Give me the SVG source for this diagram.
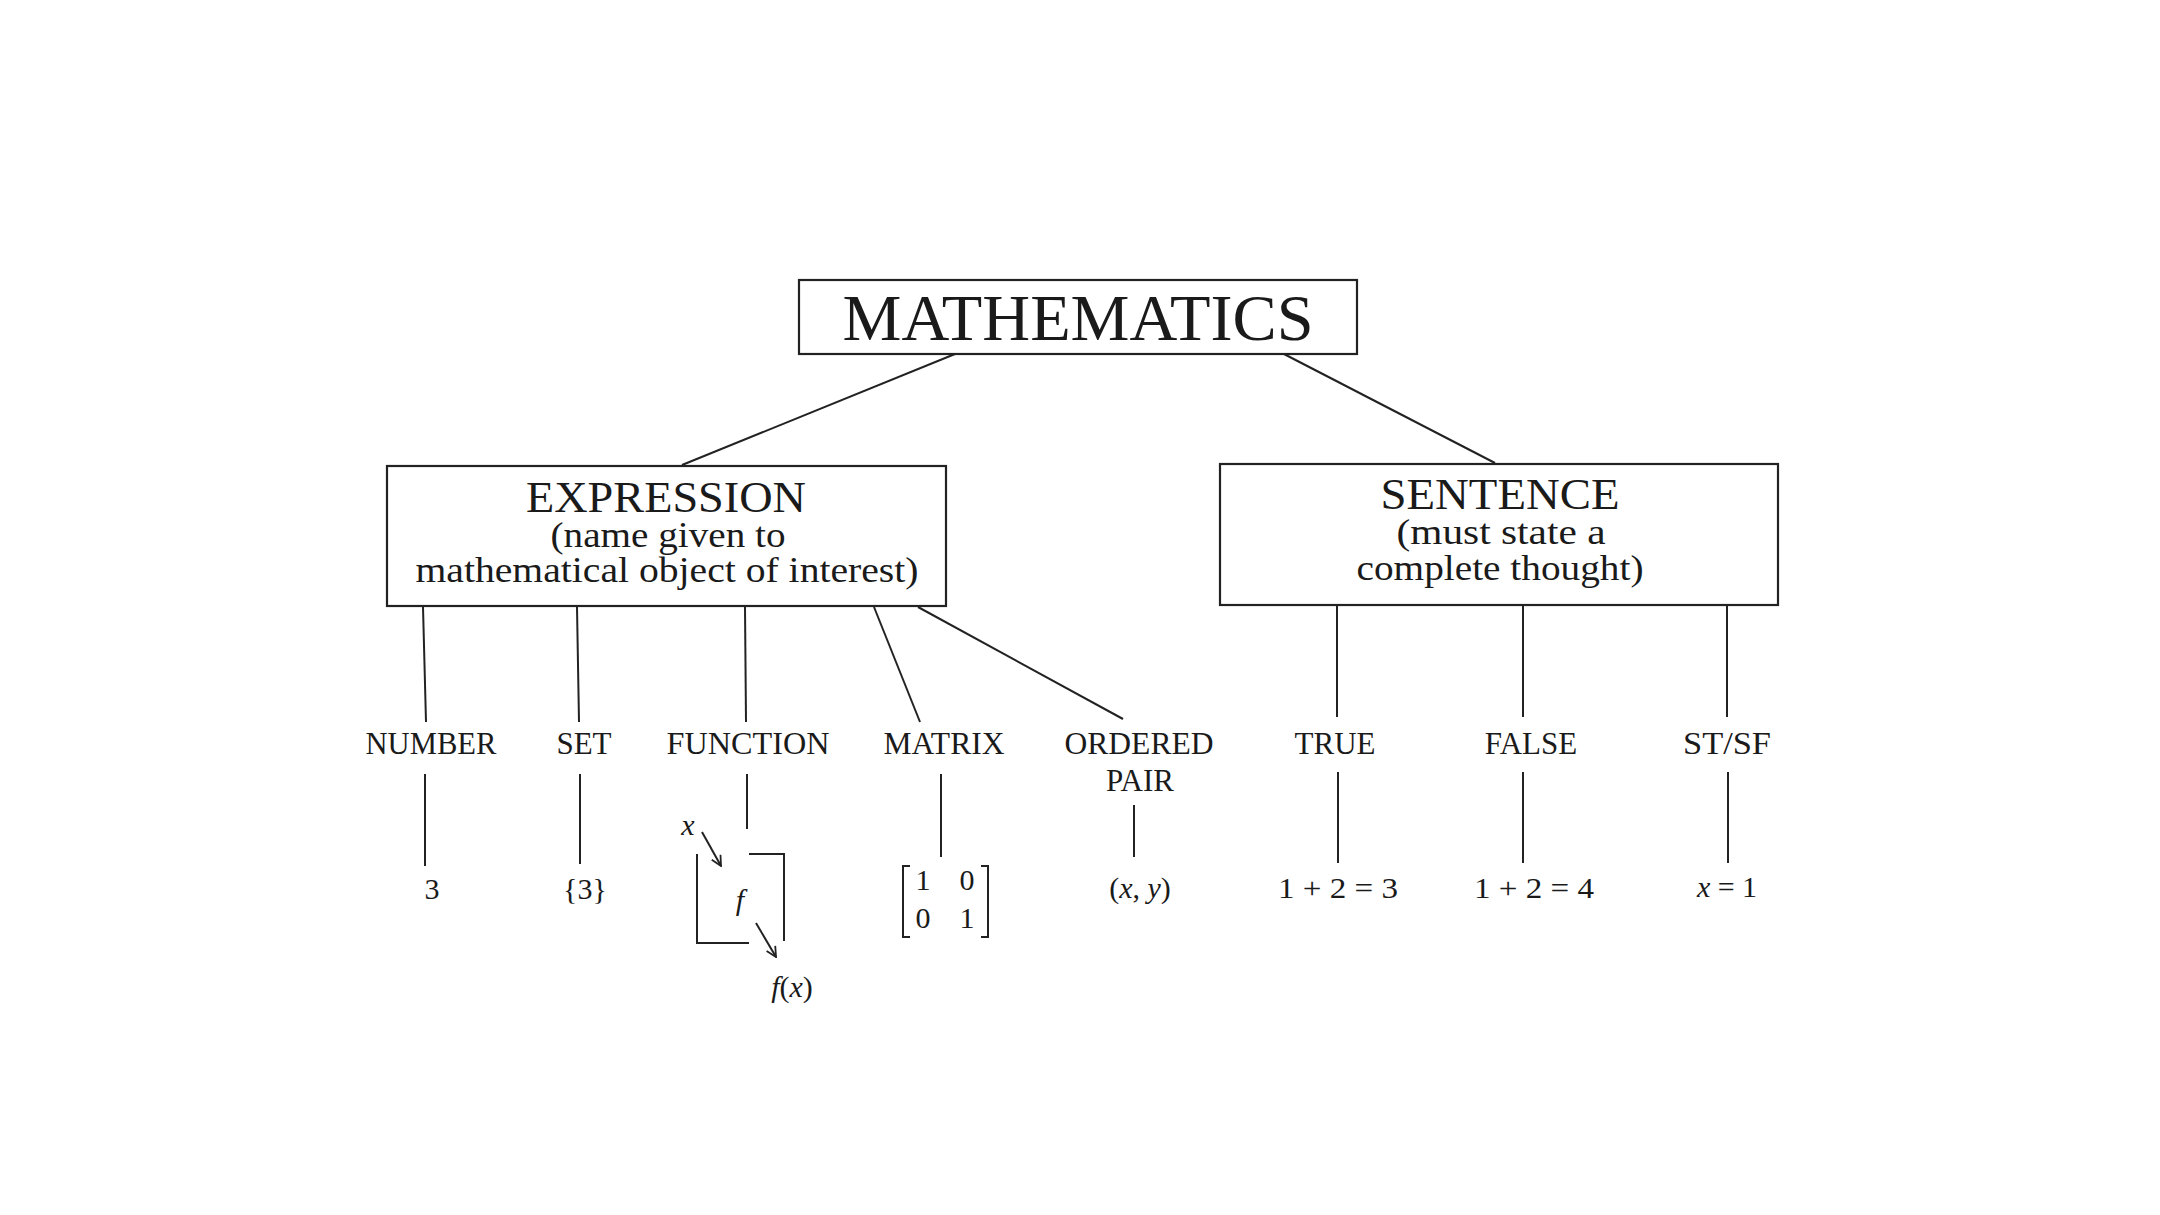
<svg xmlns="http://www.w3.org/2000/svg" width="2160" height="1215" viewBox="0 0 2160 1215">
<style>
.box{fill:#fff;stroke:#222;stroke-width:2.2}
.ln{stroke:#222;stroke-width:2;fill:none}
text{font-family:"Liberation Serif","Times New Roman",serif;fill:#1a1a1a;text-anchor:middle}
.lab{font-size:31px}
.val{font-size:30px}
.it{font-style:italic}
</style>
<defs>
<marker id="ah" viewBox="0 0 12 12" refX="11" refY="6" markerWidth="12" markerHeight="12" markerUnits="userSpaceOnUse" orient="auto">
<path d="M1,1 L11,6 L1,11" fill="none" stroke="#222" stroke-width="1.8"/>
</marker>
</defs>
<rect width="2160" height="1215" fill="#fff"/>
<g id="connectors">
<line class="ln" x1="955" y1="354" x2="682" y2="465"/>
<line class="ln" x1="1284" y1="354" x2="1495" y2="463"/>
<line class="ln" x1="423" y1="607" x2="426" y2="722"/>
<line class="ln" x1="577" y1="607" x2="579" y2="722"/>
<line class="ln" x1="745" y1="607" x2="746" y2="722"/>
<line class="ln" x1="874" y1="607" x2="920" y2="722"/>
<line class="ln" x1="918" y1="607" x2="1123" y2="719"/>
<line class="ln" x1="1337" y1="605" x2="1337" y2="717"/>
<line class="ln" x1="1523" y1="605" x2="1523" y2="717"/>
<line class="ln" x1="1727" y1="605" x2="1727" y2="717"/>
<line class="ln" x1="425" y1="774" x2="425" y2="866"/>
<line class="ln" x1="580" y1="774" x2="580" y2="864"/>
<line class="ln" x1="747" y1="774" x2="747" y2="829"/>
<line class="ln" x1="941" y1="774" x2="941" y2="857"/>
<line class="ln" x1="1134" y1="805" x2="1134" y2="857"/>
<line class="ln" x1="1338" y1="772" x2="1338" y2="863"/>
<line class="ln" x1="1523" y1="772" x2="1523" y2="863"/>
<line class="ln" x1="1728" y1="772" x2="1728" y2="863"/>
</g>
<g id="mathematics">
<rect class="box" x="799" y="280" width="558" height="74"/>
<text x="1078" y="340" font-size="66" textLength="471" lengthAdjust="spacingAndGlyphs">MATHEMATICS</text>
</g>
<g id="expression">
<rect class="box" x="387" y="466" width="559" height="140"/>
<text x="666" y="512" font-size="44" textLength="280" lengthAdjust="spacingAndGlyphs">EXPRESSION</text>
<text x="668" y="547" font-size="36" textLength="235" lengthAdjust="spacingAndGlyphs">(name given to</text>
<text x="667" y="582" font-size="36" textLength="503" lengthAdjust="spacingAndGlyphs">mathematical object of interest)</text>
</g>
<g id="sentence">
<rect class="box" x="1220" y="464" width="558" height="141"/>
<text x="1500" y="509" font-size="44" textLength="239" lengthAdjust="spacingAndGlyphs">SENTENCE</text>
<text x="1501" y="544" font-size="36" textLength="209" lengthAdjust="spacingAndGlyphs">(must state a</text>
<text x="1500" y="580" font-size="36" textLength="287" lengthAdjust="spacingAndGlyphs">complete thought)</text>
</g>
<g id="number">
<text class="lab" x="431" y="754" textLength="131" lengthAdjust="spacingAndGlyphs">NUMBER</text>
<text class="val" x="432" y="899">3</text>
</g>
<g id="set">
<text class="lab" x="584" y="754">SET</text>
<text class="val" x="585" y="899">{3}</text>
</g>
<g id="function">
<text class="lab" x="748" y="754" textLength="163" lengthAdjust="spacingAndGlyphs">FUNCTION</text>
<text class="val it" x="688" y="835">x</text>
<line class="ln" x1="702" y1="832" x2="721" y2="866" marker-end="url(#ah)"/>
<polyline class="ln" points="697,854 697,943 749,943"/>
<polyline class="ln" points="749,854 784,854 784,941"/>
<text class="val it" x="740" y="910">f</text>
<line class="ln" x1="756" y1="923" x2="776" y2="957" marker-end="url(#ah)"/>
<text class="val" x="792" y="997"><tspan class="it">f</tspan>(<tspan class="it">x</tspan>)</text>
</g>
<g id="matrix">
<text class="lab" x="944" y="754" textLength="121" lengthAdjust="spacingAndGlyphs">MATRIX</text>
<polyline class="ln" points="910,866 903,866 903,937 910,937"/>
<polyline class="ln" points="981,866 988,866 988,937 981,937"/>
<text class="val" font-size="28" x="923" y="890">1</text>
<text class="val" font-size="28" x="967" y="890">0</text>
<text class="val" font-size="28" x="923" y="928">0</text>
<text class="val" font-size="28" x="967" y="928">1</text>
</g>
<g id="ordered-pair">
<text class="lab" x="1139" y="754" textLength="149" lengthAdjust="spacingAndGlyphs">ORDERED</text>
<text class="lab" x="1140" y="791">PAIR</text>
<text class="val" x="1140" y="898">(<tspan class="it">x</tspan>, <tspan class="it">y</tspan>)</text>
</g>
<g id="true">
<text class="lab" x="1335" y="754">TRUE</text>
<text class="val" x="1338" y="898" textLength="120" lengthAdjust="spacingAndGlyphs">1 + 2 = 3</text>
</g>
<g id="false">
<text class="lab" x="1531" y="754">FALSE</text>
<text class="val" x="1534" y="898" textLength="120" lengthAdjust="spacingAndGlyphs">1 + 2 = 4</text>
</g>
<g id="stsf">
<text class="lab" x="1727" y="754" textLength="88" lengthAdjust="spacingAndGlyphs">ST/SF</text>
<text class="val" x="1727" y="897"><tspan class="it">x</tspan> = 1</text>
</g>
</svg>
